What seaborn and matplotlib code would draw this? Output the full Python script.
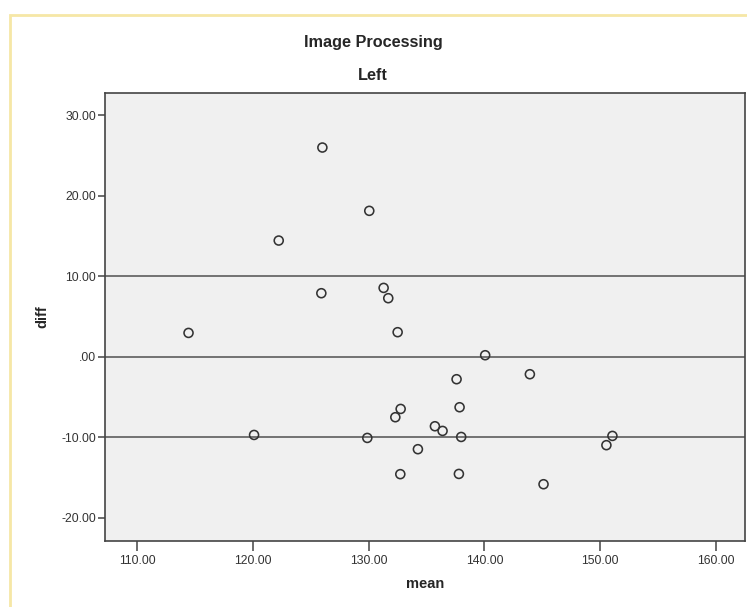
import matplotlib
matplotlib.use("Agg")
import matplotlib.pyplot as plt
import seaborn as sns
import pandas as pd
from matplotlib.patches import Rectangle

mean_vals = [126.0, 130.05, 122.23, 125.91, 131.29, 131.69, 114.44, 132.5,
             140.06, 137.59, 143.92, 132.76, 132.3, 137.85, 135.72, 136.38,
             120.1, 129.88, 137.99, 134.25, 151.05, 150.53, 132.73, 137.79, 145.1]
diff_vals = [25.96, 18.1, 14.41, 7.87, 8.53, 7.25, 2.94, 3.03,
             0.17, -2.81, -2.19, -6.5, -7.53, -6.29, -8.65, -9.23,
             -9.73, -10.1, -9.98, -11.5, -9.85, -11.0, -14.6, -14.57, -15.85]
ref_lines = [10.0, 0.0, -10.0]
x_ticks = [110, 120, 130, 140, 150, 160]
y_ticks = [-20, -10, 0, 10, 20, 30]
x_tick_labels = ["110.00", "120.00", "130.00", "140.00", "150.00", "160.00"]
y_tick_labels = ["-20.00", "-10.00", ".00", "10.00", "20.00", "30.00"]

df = pd.DataFrame({"mean": mean_vals, "diff": diff_vals})

sns.set_style("white")
plt.rcParams["font.family"] = ["Liberation Sans", "DejaVu Sans"]

fig = plt.figure(figsize=(7.47, 6.07), dpi=100)
fig.patch.set_facecolor("white")
# pale yellow frame
fig.patches.append(Rectangle((10/747, -0.05), 1.2, 1 - 15/607 + 0.05,
                             transform=fig.transFigure, fill=False,
                             edgecolor="#F6E7A6", linewidth=2.0, zorder=0))

ax = fig.add_axes([104.7/747, 1 - 541/607, (745 - 104.7)/747, (541 - 92.7)/607])
ax.set_facecolor("#F0F0F0")

for v in ref_lines:
    ax.axhline(v, color="#505050", linewidth=1.1, zorder=1)

sns.scatterplot(data=df, x="mean", y="diff", ax=ax, marker="o", s=42,
                facecolor="none", edgecolor="#333333", linewidth=1.15, zorder=3)

ax.set_xlim(107.2, 162.5)
ax.set_ylim(-22.9, 32.77)
ax.set_xticks(x_ticks)
ax.set_xticklabels(x_tick_labels)
ax.set_yticks(y_ticks)
ax.set_yticklabels(y_tick_labels)
ax.tick_params(axis="both", bottom=True, left=True, direction="out", width=1.1,
               color="#444444", labelsize=8.8, labelcolor="#333333")
ax.tick_params(axis="x", length=7, pad=3)
ax.tick_params(axis="y", length=5, pad=1)
for sp in ax.spines.values():
    sp.set_color("#444444")
    sp.set_linewidth(1.2)

ax.set_xlabel("mean", fontsize=10.5, fontweight="bold", labelpad=7)
ax.set_ylabel("diff", fontsize=10.5, fontweight="bold", labelpad=9)

fig.text(373/747, 1 - 42/607, "Image Processing", ha="center", va="center",
         fontsize=11.7, fontweight="bold")
fig.text(373/747, 1 - 75/607, "Left", ha="center", va="center",
         fontsize=11.7, fontweight="bold")

fig.savefig("out.png", dpi=100)
